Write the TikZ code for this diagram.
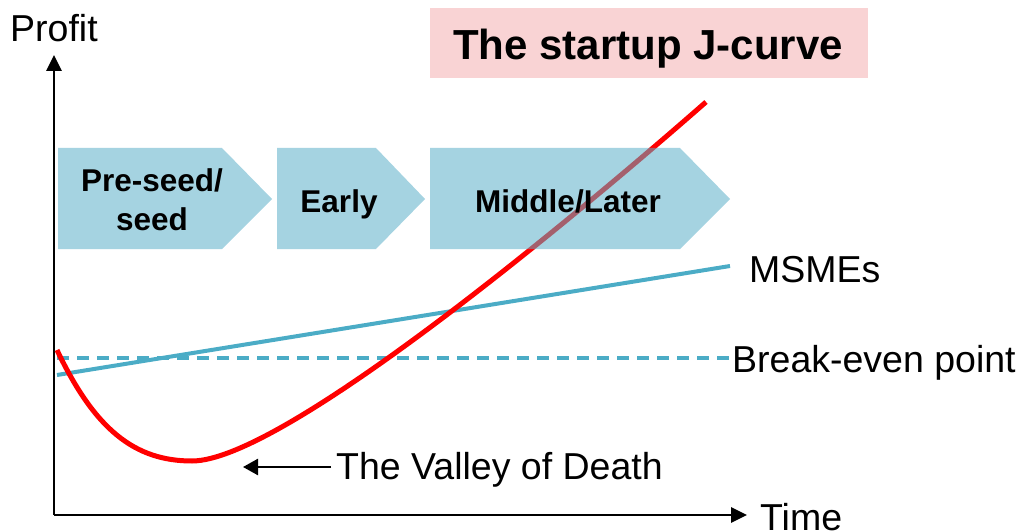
\documentclass[tikz,border=0pt]{standalone}
\usepackage{fontspec}
\setmainfont{Liberation Sans}
\usetikzlibrary{arrows.meta}
\definecolor{chevblue}{HTML}{5BAFC8}
\definecolor{linblue}{HTML}{4BACC6}
\definecolor{titlepink}{HTML}{F9D3D4}
\definecolor{jred}{HTML}{FF0000}
\tikzset{
  axisline/.style={line width=2.8pt,-{Triangle[length=16pt,width=15pt]}},
  lbl/.style={anchor=base west,inner sep=0pt,font=\fontsize{37.5}{45}\selectfont},
  chevtext/.style={anchor=base,inner sep=0pt,font=\bfseries\fontsize{31.5}{38}\selectfont},
  chevron/.style={fill=chevblue,fill opacity=0.55},
}
\begin{document}
\begin{tikzpicture}[x=1pt,y=-1pt]
\useasboundingbox (0,0) rectangle (1018,532);
% coordinates
\coordinate (O) at (54,515);
\coordinate (ytip) at (54,55);
\coordinate (xtip) at (747,515);
\coordinate (msA) at (57,375);
\coordinate (msB) at (730,266);
\coordinate (beA) at (57,358);
\coordinate (beB) at (730,358);
\coordinate (vA) at (331,467);
\coordinate (vB) at (243,467);
% axes
\draw[axisline] (O) -- (ytip);
\draw[axisline] (O) -- (xtip);
% title
\node[fill=titlepink,minimum width=438pt,minimum height=70pt,inner sep=0pt] (titlebox) at (649,43) {};
\node[anchor=base,inner sep=0pt,font=\bfseries\fontsize{42}{50}\selectfont] (title) at (648,60) {The startup J-curve};
% lines
\draw[linblue,line width=4pt] (msA) -- (msB);
\draw[linblue,line width=4pt,dash pattern=on 12pt off 8pt] (beA) -- (beB);
% J-curve
\draw[jred,line width=5pt] (57,350) .. controls (95,430) and (135,461) .. (192,461)
  .. controls (280,461) and (560,230) .. (706,102);
% chevrons
\fill[chevron] (58,148) -- (222,148) -- (272,199) -- (222,249) -- (58,249) -- cycle;
\fill[chevron] (277,148) -- (376,148) -- (425,199) -- (376,249) -- (277,249) -- cycle;
\fill[chevron] (430,148) -- (680,148) -- (730,199) -- (680,249) -- (430,249) -- cycle;
\node[chevtext] (pre1) at (152,192) {Pre-seed/};
\node[chevtext] (pre2) at (152,230) {seed};
\node[chevtext] (early) at (339,212) {Early};
\node[chevtext] (middle) at (568,212) {Middle/Later};
% labels
\node[lbl] (profit) at (10,42) {Profit};
\node[lbl] (time) at (760,530) {Time};
\node[lbl] (msmes) at (749,282) {MSMEs};
\node[lbl] (breakeven) at (732,372) {Break-even point};
\node[lbl] (valley) at (336,479) {The Valley of Death};
\draw[line width=2.5pt,-{Triangle[length=15pt,width=16pt]}] (vA) -- (vB);
\end{tikzpicture}
\end{document}
